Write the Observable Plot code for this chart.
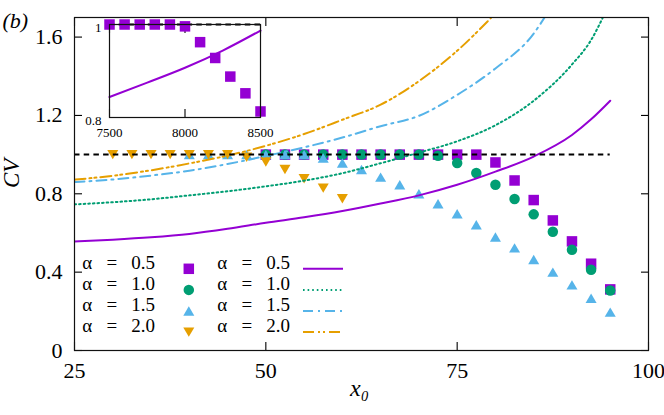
<!DOCTYPE html>
<html><head><meta charset="utf-8">
<script src="https://cdn.jsdelivr.net/npm/d3@7"></script>
<script src="https://cdn.jsdelivr.net/npm/@observablehq/plot@0.6"></script>
<style>
html,body{margin:0;padding:0;background:#fff;}
#wrap{position:relative;width:664px;height:415px;}
#wrap svg{position:absolute;left:0;top:0;}
#wrap svg text{font-family:"Liberation Serif", serif !important;}
</style></head><body><div id="wrap"></div>
<script>
// ---------- data ----------
const xTicks = [25, 50, 75, 100];
const xTickLabels = ["25", "50", "75", "100"];
const yTicks = [0, 0.4, 0.8, 1.2, 1.6];
const yTickLabels = ["0", "0.4", "0.8", "1.2", "1.6"];
const xDomain = [25, 100];
const yDomain = [0, 1.7];
const SP = "\u00a0\u00a0\u00a0";
const alphaLabels = ["0.5", "1.0", "1.5", "2.0"].map(v => "α" + SP + "=" + SP + v);
const colors = ["#9400d3", "#009e73", "#56b4e9", "#e69f00"];

// simulation points
const sqX  = [50, 52.5, 55, 57.5, 60, 62.5, 65, 67.5, 70, 72.5, 75, 77.5, 80, 82.5, 85, 87.5, 90, 92.5, 95];
const sqCV = [1, 1, 1, 1, 1, 1, 1, 1, 1, 1, 1, 1, 0.96, 0.868, 0.768, 0.664, 0.557, 0.443, 0.312];
const ciX  = [50, 52.5, 55, 57.5, 60, 62.5, 65, 67.5, 70, 72.5, 75, 77.5, 80, 82.5, 85, 87.5, 90, 92.5, 95];
const ciCV = [1, 1, 1, 1, 1, 1, 1, 1, 1, 0.994, 0.957, 0.906, 0.846, 0.773, 0.695, 0.606, 0.514, 0.412, 0.306];
const tuX  = [40, 42.5, 45, 47.5, 50, 52.5, 55, 57.5, 60, 62.5, 65, 67.5, 70, 72.5, 75, 77.5, 80, 82.5, 85, 87.5, 90, 92.5, 95];
const tuCV = [1, 1, 1, 1, 1, 1, 1, 0.983, 0.957, 0.924, 0.885, 0.846, 0.8, 0.749, 0.698, 0.642, 0.579, 0.524, 0.465, 0.4, 0.335, 0.267, 0.196];
const tdX  = [30, 32.5, 35, 37.5, 40, 42.5, 45, 47.5, 50, 52.5, 55, 57.5, 60];
const tdCV = [1, 1, 1, 1, 1, 1, 1, 0.987, 0.962, 0.924, 0.877, 0.829, 0.775];

// theory curves
const l05X  = [25, 30, 35, 40, 45, 50, 55, 60, 65, 70, 75, 80, 85, 90, 92.5, 95];
const l05CV = [0.557, 0.566, 0.578, 0.595, 0.621, 0.652, 0.68, 0.712, 0.75, 0.792, 0.846, 0.913, 0.99, 1.1, 1.18, 1.275];
const l10X  = [25, 30, 35, 40, 45, 50, 55, 60, 65, 70, 75, 80, 85, 90, 92.5, 94.1];
const l10CV = [0.746, 0.757, 0.772, 0.792, 0.813, 0.838, 0.867, 0.905, 0.956, 1.01, 1.068, 1.15, 1.275, 1.46, 1.585, 1.705];
const l15X  = [25, 30, 35, 40, 45, 50, 55, 60, 65, 70, 75, 80, 85, 86.5];
const l15CV = [0.86, 0.873, 0.893, 0.918, 0.952, 0.993, 1.037, 1.087, 1.145, 1.198, 1.305, 1.44, 1.618, 1.705];
const l20X  = [25, 30, 35, 40, 45, 50, 55, 60, 65, 70, 75, 79.6];
const l20CV = [0.872, 0.892, 0.92, 0.955, 0.995, 1.045, 1.105, 1.178, 1.255, 1.375, 1.53, 1.705];

// reference CV = 1
const refX = [25, 95];
const refCV = 1;

// inset
const insetXDomain = [7500, 8500];
const insetYDomain = [0.8, 1];
const insetXTicks = [7500, 8000, 8500];
const insetXTickLabels = ["7500", "8000", "8500"];
const insetYTicks = [0.8, 1];
const insetYTickLabels = ["0.8", "1"];
const insetSqX  = [7500, 7600, 7700, 7800, 7900, 8000, 8100, 8200, 8300, 8400, 8500];
const insetSqCV = [1, 1, 1, 1, 1, 0.996, 0.962, 0.928, 0.888, 0.852, 0.813];
const insetLineX  = [7500, 7750, 8000, 8250, 8500];
const insetLineCV = [0.844, 0.875, 0.907, 0.944, 0.987];

// ---------- styling ----------
const FONT = "Liberation Serif, serif";
const R = 5.25;
const symSquare = {draw(ctx, size) { const r = Math.sqrt(size / Math.PI); ctx.rect(-r, -r, 2 * r, 2 * r); }};
const symTriUp = {draw(ctx, size) { const r = Math.sqrt(size / Math.PI); const w = r * 1.05, h = r * 0.9;
  ctx.moveTo(0, -h); ctx.lineTo(w, h); ctx.lineTo(-w, h); ctx.closePath(); }};
const symTriDown = {draw(ctx, size) { const r = Math.sqrt(size / Math.PI); const w = r * 1.05, h = r * 0.9;
  ctx.moveTo(0, h); ctx.lineTo(w, -h); ctx.lineTo(-w, -h); ctx.closePath(); }};
const symbols = [symSquare, "circle", symTriUp, symTriDown];
const dashes = [null, "1.6,3", "10,5,2,5", "11,4,2,3,2,4"];

const pts = [[sqX, sqCV], [ciX, ciCV], [tuX, tuCV], [tdX, tdCV]].map(([xs, ys]) => xs.map((x, i) => ({x, y: ys[i]})));
const lines = [[l05X, l05CV], [l10X, l10CV], [l15X, l15CV], [l20X, l20CV]].map(([xs, ys]) => xs.map((x, i) => ({x, y: ys[i]})));

const tickMarks = (ticks, xy, anchors) => anchors.map(([anchor, off]) =>
  (xy === "x" ? Plot.axisX : Plot.axisY)({anchor, ticks, tickSize: 8, [xy === "x" ? "dy" : "dx"]: off,
    tickFormat: () => "", label: null, strokeWidth: 1.1}));

// legend marks
const legendMarks = [];
alphaLabels.forEach((a, i) => {
  const dy = -81.7 + 21.1 * i;
  for (const off of [0, 135]) {
    legendMarks.push(Plot.text([a], {text: d => d, frameAnchor: "bottom-left", textAnchor: "start", dx: 7.7 + off, dy, fontSize: 19}));
  }
  legendMarks.push(Plot.dot([0], {frameAnchor: "bottom-left", dx: 114.3, dy, symbol: symbols[i], r: R, fill: colors[i]}));
  legendMarks.push(Plot.ruleY([yDomain[0]], {y: d => d, dy, insetLeft: 229, insetRight: 305, stroke: colors[i], strokeWidth: 2, strokeDasharray: dashes[i]}));
});

const main = Plot.plot({
  width: 664, height: 415,
  marginLeft: 74, marginRight: 16, marginTop: 17, marginBottom: 65,
  x: {domain: xDomain},
  y: {domain: yDomain},
  style: {fontFamily: FONT, fontSize: "22px", color: "#000", background: "white"},
  marks: [
    Plot.axisX({ticks: xTicks, tickSize: 0, tickPadding: 12, tickFormat: d => xTickLabels[xTicks.indexOf(d)], label: null, fontSize: 22}),
    Plot.axisY({ticks: yTicks, tickSize: 0, tickPadding: 12, tickFormat: d => yTickLabels[yTicks.indexOf(d)], label: null, fontSize: 22}),
    ...tickMarks(xTicks, "x", [["bottom", -8], ["top", 8]]),
    ...tickMarks(yTicks, "y", [["left", 8], ["right", -8]]),
    ...pts.map((d, i) => Plot.dot(d, {x: "x", y: "y", symbol: symbols[i], r: R, fill: colors[i]})),
    ...lines.map((d, i) => Plot.line(d, {x: "x", y: "y", stroke: colors[i], strokeWidth: 2, strokeDasharray: dashes[i], curve: "monotone-x", clip: true})),
    Plot.ruleY([refCV], {y: d => d, x1: refX[0], x2: refX[1], stroke: "#000", strokeWidth: 2, strokeDasharray: "5.5,4.2"}),
    ...legendMarks,
    Plot.frame({stroke: "#111", strokeWidth: 1.2}),
    // axis titles
    Plot.text(["CV"], {text: d => d, frameAnchor: "left", dx: -63, dy: 4, rotate: -90, fontStyle: "italic", fontSize: 23}),
    Plot.text(["x₀"], {text: d => d, frameAnchor: "bottom", dx: -2, dy: 45, fontStyle: "italic", fontSize: 24}),
    Plot.text(["(b)"], {text: d => d, frameAnchor: "top-left", textAnchor: "start", dx: -72, dy: -5, fontStyle: "italic", fontSize: 22})
  ]
});

const inset = Plot.plot({
  width: 200, height: 142,
  marginLeft: 29, marginRight: 20, marginTop: 24, marginBottom: 25,
  x: {domain: insetXDomain},
  y: {domain: insetYDomain},
  style: {fontFamily: FONT, fontSize: "12px", color: "#000", background: "none", overflow: "visible"},
  marks: [
    Plot.axisX({ticks: insetXTicks, tickSize: 0, tickPadding: 10, tickFormat: d => insetXTickLabels[insetXTicks.indexOf(d)], label: null, fontSize: 13}),
    Plot.axisY({ticks: insetYTicks, tickSize: 0, tickPadding: 8, dy: 3, tickFormat: d => insetYTickLabels[insetYTicks.indexOf(d)], label: null, fontSize: 13}),
    ...tickMarks(insetXTicks, "x", [["bottom", -8], ["top", 8]]),
    Plot.ruleY([refCV], {y: d => d, x1: insetXDomain[0], x2: insetXDomain[1], stroke: "#000", strokeWidth: 2, strokeDasharray: "5.5,4.2"}),
    Plot.line(insetLineX.map((x, i) => ({x, y: insetLineCV[i]})), {x: "x", y: "y", stroke: colors[0], strokeWidth: 2, curve: "monotone-x"}),
    Plot.dot(insetSqX.map((x, i) => ({x, y: insetSqCV[i]})), {x: "x", y: "y", symbol: symSquare, r: R, fill: colors[0]}),
    Plot.frame({stroke: "#111", strokeWidth: 1.2})
  ]
});
inset.style.left = "80px";
inset.style.top = "0px";

const wrap = document.getElementById("wrap");
wrap.appendChild(main);
wrap.appendChild(inset);
</script></body></html>
